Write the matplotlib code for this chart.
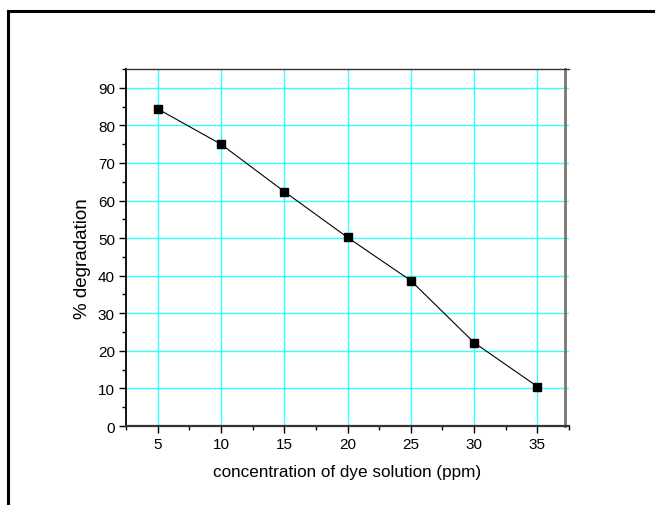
import matplotlib
matplotlib.use("Agg")
import matplotlib.pyplot as plt
from matplotlib.lines import Line2D
from matplotlib.ticker import MultipleLocator

# data
concentration = [5, 10, 15, 20, 25, 30, 35]
degradation = [84.4, 75.0, 62.4, 50.2, 38.7, 22.2, 10.5]

plt.rcParams['font.family'] = ['Liberation Sans', 'DejaVu Sans']

fig = plt.figure(figsize=(6.55, 5.06), dpi=100)
ax = fig.add_axes([0.1924, 0.1561, 0.6763, 0.7055])

# outer frame (top and left only)
fig.add_artist(Line2D([0.012, 1.0], [0.976, 0.976], color='black', lw=2.2))
fig.add_artist(Line2D([0.012, 0.012], [0.0, 0.976], color='black', lw=2.2))

ax.plot(concentration, degradation, color='black', lw=0.8, marker='s',
        markersize=5.5, markerfacecolor='black', zorder=3)

ax.set_xlim(2.5, 37.5)
ax.set_ylim(0, 95)
ax.xaxis.set_major_locator(MultipleLocator(5))
ax.xaxis.set_minor_locator(MultipleLocator(2.5))
ax.yaxis.set_major_locator(MultipleLocator(10))
ax.yaxis.set_minor_locator(MultipleLocator(5))
ax.set_xticks([5, 10, 15, 20, 25, 30, 35])

ax.grid(True, which='major', color='#33ffff', lw=1.0, zorder=0)
ax.set_axisbelow(True)

ax.tick_params(which='major', direction='out', length=5, width=1, labelsize=11, pad=3)
ax.tick_params(which='minor', direction='out', length=3, width=1)
ax.tick_params(top=False, right=False)

ax.spines['left'].set_linewidth(1.3)
ax.spines['bottom'].set_linewidth(1.6)
ax.spines['bottom'].set_color('#333333')
ax.spines['top'].set_color('#333333')
ax.spines['top'].set_linewidth(1.0)
ax.spines['right'].set_color('#777777')
ax.spines['right'].set_linewidth(2.0)
ax.spines['right'].set_position(('data', 37.2))

ax.set_xlabel('concentration of dye solution (ppm)', fontsize=12.3, labelpad=9)
ax.set_ylabel('% degradation', fontsize=13.5)
ax.yaxis.set_label_coords(-0.079, 0.473)

fig.savefig('out.png', dpi=100)
